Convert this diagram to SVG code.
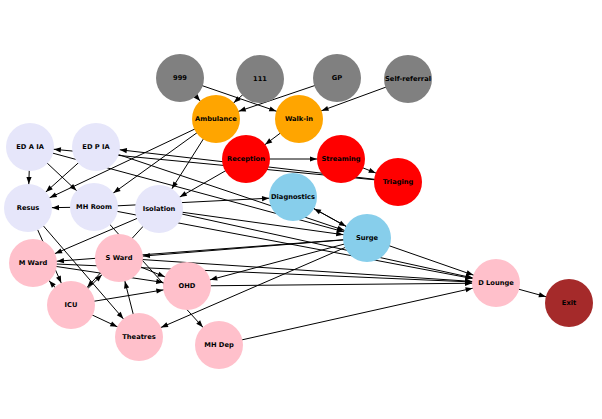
<svg xmlns="http://www.w3.org/2000/svg" width="602" height="419" viewBox="0 0 602 419">
<style>
.e{stroke:#000;stroke-width:1;fill:none;marker-end:url(#a)}
text{font-family:"DejaVu Sans","Liberation Sans",sans-serif;font-weight:bold;font-size:6.7px;text-anchor:middle;fill:#000}
.g{fill:#808080}.o{fill:#FFA500}.r{fill:#FF0000}.l{fill:#E6E6FA}.b{fill:#87CEEB}.p{fill:#FFC0CB}.x{fill:#A52A2A}
</style>
<defs>
<marker id="a" markerUnits="userSpaceOnUse" orient="auto" refX="31" refY="0" markerWidth="40" markerHeight="10" overflow="visible">
<path d="M0,-2.6 L7,0 L0,2.6 z" fill="#000"/>
</marker>
</defs>
<rect width="602" height="419" fill="#fff"/>
<g id="connectors">
<line class="e" x1="180" y1="78" x2="216" y2="119"/>
<line class="e" x1="180" y1="78" x2="299" y2="119"/>
<line class="e" x1="260" y1="79" x2="216" y2="119"/>
<line class="e" x1="337" y1="78" x2="216" y2="119"/>
<line class="e" x1="408" y1="79" x2="299" y2="119"/>
<line class="e" x1="299" y1="119" x2="246" y2="159"/>
<line class="e" x1="246" y1="159" x2="341" y2="159"/>
<line class="e" x1="341" y1="159" x2="398" y2="182"/>
<line class="e" x1="398" y1="182" x2="30" y2="147"/>
<line class="e" x1="398" y1="182" x2="96" y2="147"/>
<line class="e" x1="216" y1="119" x2="28" y2="208"/>
<line class="e" x1="216" y1="119" x2="94" y2="207"/>
<line class="e" x1="216" y1="119" x2="159" y2="209"/>
<line class="e" x1="246" y1="159" x2="159" y2="209"/>
<line class="e" x1="30" y1="147" x2="28" y2="208"/>
<line class="e" x1="30" y1="147" x2="94" y2="207"/>
<line class="e" x1="96" y1="147" x2="28" y2="208"/>
<line class="e" x1="94" y1="207" x2="28" y2="208"/>
<line class="e" x1="94" y1="207" x2="293" y2="197"/>
<line class="e" x1="30" y1="147" x2="367" y2="238"/>
<line class="e" x1="96" y1="147" x2="367" y2="238"/>
<line class="e" x1="159" y1="209" x2="367" y2="238"/>
<line class="e" x1="293" y1="197" x2="367" y2="238"/>
<line class="e" x1="367" y1="238" x2="293" y2="197"/>
<line class="e" x1="159" y1="209" x2="33" y2="263"/>
<line class="e" x1="159" y1="209" x2="71" y2="305"/>
<line class="e" x1="28" y1="208" x2="71" y2="305"/>
<line class="e" x1="28" y1="208" x2="139" y2="337"/>
<line class="e" x1="71" y1="305" x2="33" y2="263"/>
<line class="e" x1="71" y1="305" x2="119" y2="258"/>
<line class="e" x1="71" y1="305" x2="187" y2="286"/>
<line class="e" x1="71" y1="305" x2="139" y2="337"/>
<line class="e" x1="139" y1="337" x2="119" y2="258"/>
<line class="e" x1="33" y1="263" x2="187" y2="286"/>
<line class="e" x1="119" y1="258" x2="187" y2="286"/>
<line class="e" x1="367" y1="238" x2="33" y2="263"/>
<line class="e" x1="367" y1="238" x2="119" y2="258"/>
<line class="e" x1="367" y1="238" x2="187" y2="286"/>
<line class="e" x1="367" y1="238" x2="139" y2="337"/>
<line class="e" x1="94" y1="207" x2="219" y2="345"/>
<line class="e" x1="367" y1="238" x2="496" y2="283"/>
<line class="e" x1="159" y1="209" x2="496" y2="283"/>
<line class="e" x1="94" y1="207" x2="496" y2="283"/>
<line class="e" x1="33" y1="263" x2="496" y2="283"/>
<line class="e" x1="119" y1="258" x2="496" y2="283"/>
<line class="e" x1="187" y1="286" x2="496" y2="283"/>
<line class="e" x1="219" y1="345" x2="496" y2="283"/>
<line class="e" x1="496" y1="283" x2="569" y2="303"/>
</g>
<g id="n999"><circle class="g" cx="180" cy="78" r="24"/><text x="180" y="80.4">999</text></g>
<g id="n111"><circle class="g" cx="260" cy="79" r="24"/><text x="260" y="81.4">111</text></g>
<g id="nGP"><circle class="g" cx="337" cy="78" r="24"/><text x="337" y="80.4">GP</text></g>
<g id="nSelf"><circle class="g" cx="408" cy="79" r="24"/><text x="408" y="81.4">Self-referral</text></g>
<g id="nAmbulance"><circle class="o" cx="216" cy="119" r="24"/><text x="216" y="121.4">Ambulance</text></g>
<g id="nWalkin"><circle class="o" cx="299" cy="119" r="24"/><text x="299" y="121.4">Walk-in</text></g>
<g id="nReception"><circle class="r" cx="246" cy="159" r="24"/><text x="246" y="161.4">Reception</text></g>
<g id="nStreaming"><circle class="r" cx="341" cy="159" r="24"/><text x="341" y="161.4">Streaming</text></g>
<g id="nTriaging"><circle class="r" cx="398" cy="182" r="24"/><text x="398" y="184.4">Triaging</text></g>
<g id="nDiagnostics"><circle class="b" cx="293" cy="197" r="24"/><text x="293" y="199.4">Diagnostics</text></g>
<g id="nSurge"><circle class="b" cx="367" cy="238" r="24"/><text x="367" y="240.4">Surge</text></g>
<g id="nEDAIA"><circle class="l" cx="30" cy="147" r="24"/><text x="30" y="149.4">ED A IA</text></g>
<g id="nEDPIA"><circle class="l" cx="96" cy="147" r="24"/><text x="96" y="149.4">ED P IA</text></g>
<g id="nResus"><circle class="l" cx="28" cy="208" r="24"/><text x="28" y="210.4">Resus</text></g>
<g id="nMHRoom"><circle class="l" cx="94" cy="207" r="24"/><text x="94" y="209.4">MH Room</text></g>
<g id="nIsolation"><circle class="l" cx="159" cy="209" r="24"/><text x="159" y="211.4">Isolation</text></g>
<g id="nMWard"><circle class="p" cx="33" cy="263" r="24"/><text x="33" y="265.4">M Ward</text></g>
<g id="nSWard"><circle class="p" cx="119" cy="258" r="24"/><text x="119" y="260.4">S Ward</text></g>
<g id="nOHD"><circle class="p" cx="187" cy="286" r="24"/><text x="187" y="288.4">OHD</text></g>
<g id="nICU"><circle class="p" cx="71" cy="305" r="24"/><text x="71" y="307.4">ICU</text></g>
<g id="nTheatres"><circle class="p" cx="139" cy="337" r="24"/><text x="139" y="339.4">Theatres</text></g>
<g id="nMHDep"><circle class="p" cx="219" cy="345" r="24"/><text x="219" y="347.4">MH Dep</text></g>
<g id="nDLounge"><circle class="p" cx="496" cy="283" r="24"/><text x="496" y="285.4">D Lounge</text></g>
<g id="nExit"><circle class="x" cx="569" cy="303" r="24"/><text x="569" y="305.4">Exit</text></g>
</svg>
